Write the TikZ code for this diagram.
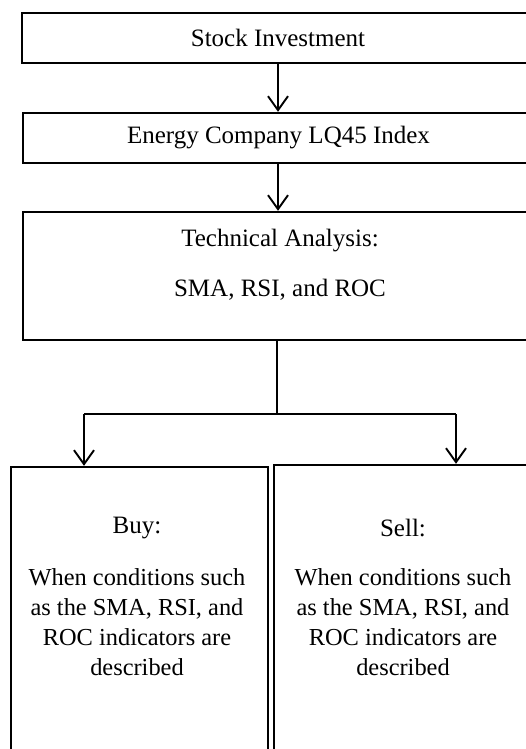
\documentclass[tikz,border=0pt]{standalone}
\usepackage{fontspec}
\setmainfont{Liberation Serif}
\usetikzlibrary{arrows.meta}
\begin{document}
\begin{tikzpicture}[x=1pt,y=-1pt,
  box/.style={draw=black,line width=2.4pt,rectangle,inner sep=0pt,font=\fontsize{25}{30}\selectfont},
  txt/.style={align=center,inner sep=0pt,font=\fontsize{25}{30}\selectfont},
  stxt/.style={align=center,inner sep=0pt,font=\fontsize{24.4}{30}\selectfont},
  conn/.style={line width=1.9pt,draw=black},
  arr/.style={conn,-{Straight Barb[length=14pt,width=20pt,line width=1.9pt]}}]
\clip (0,0) rectangle (526,749);
\fill[white] (0,0) rectangle (526,749);
\node[box,minimum width=512pt,minimum height=50pt] (b1) at (278,38) {Stock Investment};
\node[box,minimum width=511pt,minimum height=50pt] (b2) at (278.5,138) {Energy Company LQ45 Index};
\node[box,minimum width=511pt,minimum height=128pt] (b3) at (278.5,276) {};
\node[txt] (t3) at (280,265) {Technical Analysis:\\[20pt]SMA, RSI, and ROC};
\node[box,minimum width=257pt,minimum height=300pt] (buy) at (139.5,617) {};
\node[box,minimum width=258pt,minimum height=300pt] (sell) at (403,615) {};
\node[txt] (buyh) at (137,528) {Buy:};
\node[stxt] (buyt) at (137,622) {When conditions such\\as the SMA, RSI, and\\ROC indicators are\\described};
\node[txt] (sellh) at (403,528) {Sell:};
\node[stxt] (sellt) at (403,622) {When conditions such\\as the SMA, RSI, and\\ROC indicators are\\described};
\draw[arr] (b1.south) -- (b2.north -| b1.south);
\draw[arr] (b2.south -| b1.south) -- (b3.north -| b1.south);
\coordinate (j) at (277,414);
\coordinate (bl) at (84,414);
\coordinate (br) at (456,414);
\draw[conn] (b3.south -| j) -- (j);
\draw[conn] (bl) -- (br);
\draw[arr] (bl) -- (bl |- buy.north);
\draw[arr] (br) -- (br |- sell.north);
\end{tikzpicture}
\end{document}
